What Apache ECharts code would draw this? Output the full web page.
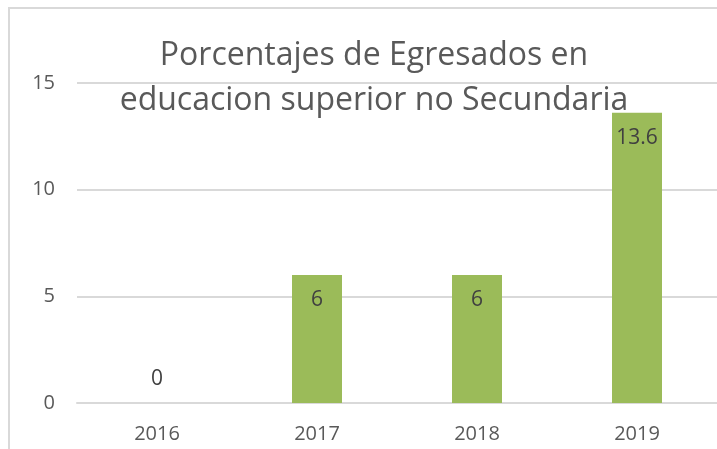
<!DOCTYPE html>
<html><head><meta charset="utf-8">
<script src="https://cdn.jsdelivr.net/npm/echarts@6/dist/echarts.min.js"></script>
<style>html,body{margin:0;padding:0;background:#fff}#c{width:717px;height:449px}
#b{position:absolute;left:8px;top:7px;width:720px;height:460px;border:2px solid #d9d9d9;pointer-events:none}</style>
</head><body><div id="c"></div><div id="b"></div>
<script>
const categories = ['2016', '2017', '2018', '2019'];
const values = [0, 6, 6, 13.6];
const yTicks = [0, 5, 10, 15];
const titleText = 'Porcentajes de Egresados en\neducacion superior no Secundaria';

const chart = echarts.init(document.getElementById('c'));
chart.setOption({
  animation: false,
  title: {
    text: titleText, left: 369, top: 28, textAlign: 'center',
    textStyle: { fontFamily: 'Open Sans', fontSize: 32, fontWeight: 'normal', color: '#595959', lineHeight: 45 }
  },
  grid: { left: 77, right: 0, top: 83, bottom: 46 },
  xAxis: {
    type: 'category', data: categories,
    axisLine: { lineStyle: { color: '#d9d9d9', width: 2 } },
    axisTick: { show: false },
    axisLabel: { fontFamily: 'Open Sans', fontSize: 20, color: '#595959', margin: 21 }
  },
  yAxis: {
    type: 'value', min: yTicks[0], max: yTicks[yTicks.length - 1], interval: 5,
    axisLine: { show: false }, axisTick: { show: false },
    splitLine: { lineStyle: { color: '#d9d9d9', width: 2 } },
    axisLabel: { fontFamily: 'Open Sans', fontSize: 20, color: '#595959', margin: 22 }
  },
  series: [{
    type: 'bar', barWidth: 50,
    itemStyle: { color: '#9bbb59' },
    label: { show: true, position: 'insideTop', distance: 15, fontFamily: 'Open Sans', fontSize: 21, color: '#404040' },
    data: values.map(v => v === 0 ? { value: v, label: { position: 'top', distance: 13 } } : v)
  }]
});
</script></body></html>
